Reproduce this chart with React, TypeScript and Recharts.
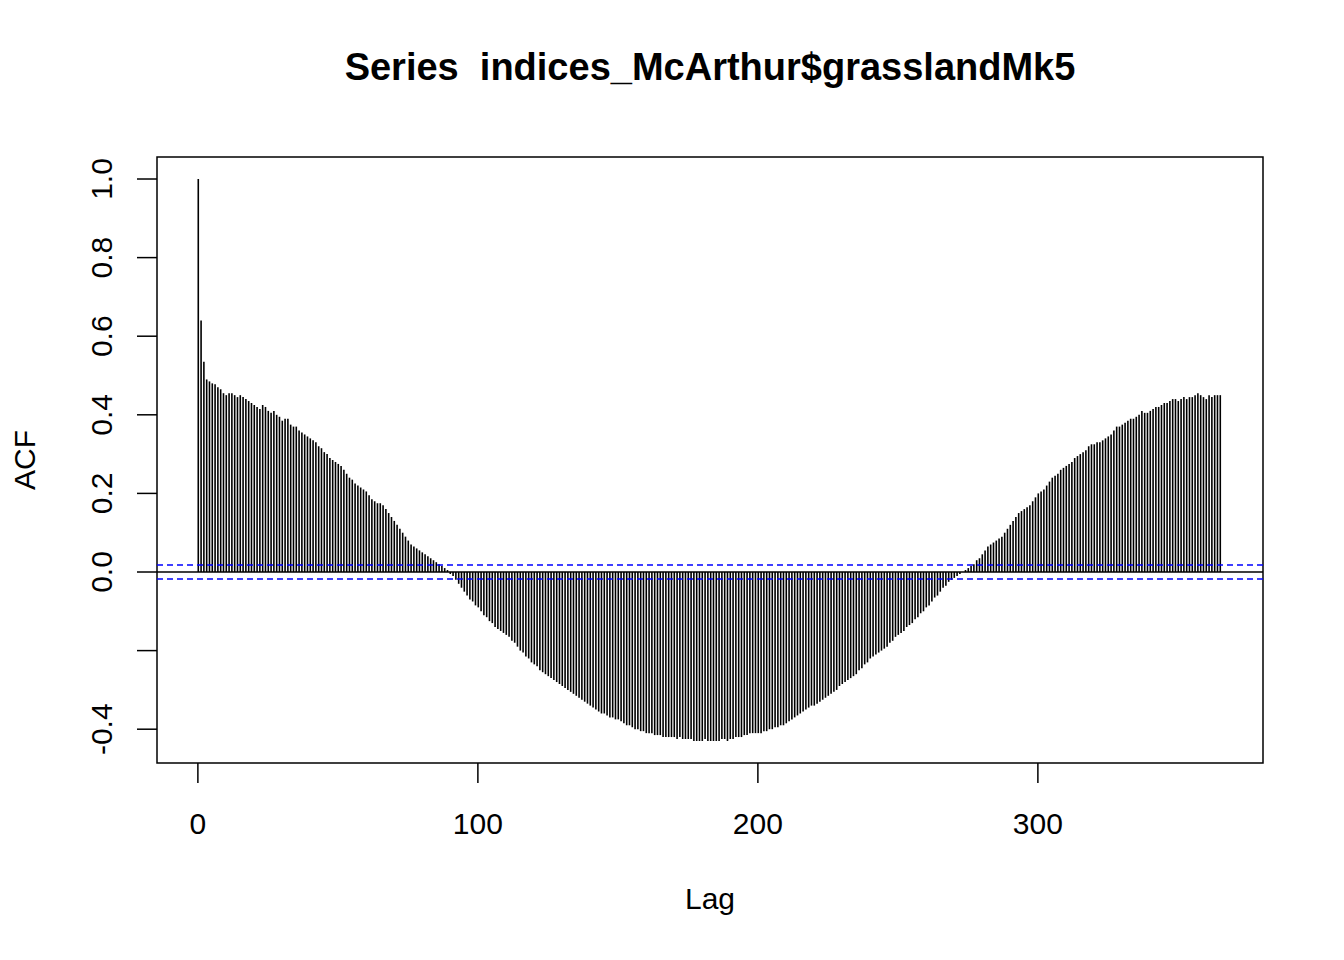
import { Bar, ComposedChart, ReferenceArea, ReferenceLine, XAxis, YAxis } from "recharts";

// ACF values for lags 0..365
const acfValues: number[] = [
  1, 0.64, 0.535, 0.49, 0.485, 0.48, 0.478, 0.47, 0.465, 0.455,
  0.45, 0.455, 0.455, 0.45, 0.445, 0.45, 0.445, 0.44, 0.435, 0.43,
  0.425, 0.42, 0.415, 0.425, 0.42, 0.41, 0.405, 0.41, 0.4, 0.395,
  0.385, 0.39, 0.39, 0.375, 0.37, 0.37, 0.36, 0.355, 0.35, 0.345,
  0.34, 0.335, 0.33, 0.32, 0.315, 0.305, 0.3, 0.29, 0.285, 0.28,
  0.275, 0.27, 0.26, 0.25, 0.24, 0.235, 0.225, 0.22, 0.215, 0.21,
  0.205, 0.195, 0.185, 0.18, 0.175, 0.175, 0.17, 0.16, 0.15, 0.14,
  0.13, 0.12, 0.11, 0.1, 0.09, 0.08, 0.07, 0.065, 0.06, 0.055,
  0.05, 0.045, 0.04, 0.035, 0.03, 0.025, 0.02, 0.015, 0.01, 0.005,
  -0.005, -0.01, -0.02, -0.03, -0.04, -0.05, -0.06, -0.07, -0.075, -0.085,
  -0.09, -0.1, -0.11, -0.115, -0.125, -0.13, -0.14, -0.145, -0.15, -0.155,
  -0.16, -0.165, -0.175, -0.18, -0.19, -0.2, -0.205, -0.215, -0.22, -0.23,
  -0.235, -0.24, -0.25, -0.255, -0.26, -0.265, -0.27, -0.275, -0.28, -0.285,
  -0.29, -0.295, -0.3, -0.305, -0.31, -0.315, -0.32, -0.325, -0.33, -0.335,
  -0.34, -0.345, -0.35, -0.355, -0.36, -0.36, -0.365, -0.37, -0.37, -0.375,
  -0.375, -0.38, -0.385, -0.39, -0.39, -0.395, -0.4, -0.4, -0.405, -0.405,
  -0.41, -0.41, -0.41, -0.415, -0.415, -0.415, -0.42, -0.42, -0.42, -0.42,
  -0.42, -0.425, -0.42, -0.425, -0.425, -0.425, -0.425, -0.43, -0.43, -0.43,
  -0.43, -0.425, -0.43, -0.43, -0.43, -0.43, -0.43, -0.425, -0.425, -0.43,
  -0.425, -0.425, -0.42, -0.42, -0.42, -0.415, -0.415, -0.41, -0.41, -0.41,
  -0.41, -0.41, -0.405, -0.405, -0.4, -0.4, -0.395, -0.395, -0.39, -0.39,
  -0.385, -0.38, -0.375, -0.37, -0.365, -0.36, -0.355, -0.35, -0.345, -0.34,
  -0.34, -0.335, -0.33, -0.325, -0.32, -0.315, -0.31, -0.305, -0.3, -0.29,
  -0.285, -0.28, -0.275, -0.27, -0.265, -0.26, -0.25, -0.245, -0.235, -0.23,
  -0.22, -0.215, -0.21, -0.205, -0.2, -0.195, -0.19, -0.18, -0.175, -0.165,
  -0.16, -0.155, -0.15, -0.14, -0.135, -0.13, -0.12, -0.115, -0.105, -0.1,
  -0.09, -0.085, -0.075, -0.065, -0.06, -0.05, -0.04, -0.035, -0.025, -0.02,
  -0.015, -0.01, -0.005, 0.0, 0.005, 0.01, 0.015, 0.02, 0.03, 0.035,
  0.045, 0.055, 0.065, 0.07, 0.075, 0.08, 0.085, 0.09, 0.1, 0.11,
  0.12, 0.13, 0.14, 0.15, 0.155, 0.16, 0.165, 0.17, 0.18, 0.19,
  0.2, 0.205, 0.21, 0.22, 0.23, 0.24, 0.245, 0.25, 0.26, 0.265,
  0.27, 0.275, 0.28, 0.29, 0.295, 0.3, 0.305, 0.31, 0.32, 0.325,
  0.325, 0.33, 0.33, 0.335, 0.34, 0.345, 0.35, 0.36, 0.37, 0.37,
  0.375, 0.38, 0.385, 0.39, 0.39, 0.395, 0.4, 0.41, 0.405, 0.405,
  0.41, 0.415, 0.42, 0.42, 0.425, 0.43, 0.43, 0.435, 0.44, 0.44,
  0.435, 0.44, 0.445, 0.44, 0.445, 0.445, 0.45, 0.455, 0.45, 0.445,
  0.44, 0.45, 0.445, 0.45, 0.45, 0.45,
];

const xTicks = [0, 100, 200, 300];
const yTicks = [-0.4, -0.2, 0, 0.2, 0.4, 0.6, 0.8, 1.0];
const ciBound = 0.018;

const data = acfValues.map((acf, lag) => ({ lag, acf }));

const X_DOMAIN: [number, number] = [-14.6, 380.4];
const Y_DOMAIN: [number, number] = [-0.486, 1.056];
const font = "'Liberation Sans', Arial, sans-serif";

function YTick({ y, payload }: any) {
  const v = payload.value as number;
  if (Math.abs(v + 0.2) < 1e-6) return null;
  return (
    <text
      x={112}
      y={y}
      transform={`rotate(-90, 112, ${y})`}
      textAnchor="middle"
      fontSize={30}
      fontFamily={font}
      fill="#000"
    >
      {v.toFixed(1)}
    </text>
  );
}

function XTick({ x, payload }: any) {
  return (
    <text x={x} y={834} textAnchor="middle" fontSize={30} fontFamily={font} fill="#000">
      {payload.value}
    </text>
  );
}

export default function App() {
  return (
    <div style={{ position: "absolute", left: 0, top: 0, width: 1344, height: 960, background: "#fff", fontFamily: font }}>
      <div style={{ position: "absolute", left: 0, width: 1420, top: 46, textAlign: "center", fontSize: 38, fontWeight: "bold" }}>
        Series&nbsp; indices_McArthur$grasslandMk5
      </div>
      <div style={{ position: "absolute", left: 0, width: 1420, top: 882, textAlign: "center", fontSize: 30 }}>Lag</div>
      <div
        style={{
          position: "absolute",
          left: 25,
          top: 460,
          fontSize: 30,
          transform: "translate(-50%, -50%) rotate(-90deg)",
        }}
      >
        ACF
      </div>
      <ComposedChart
        width={1344}
        height={960}
        data={data}
        margin={{ top: 157, right: 81, bottom: 97, left: 57 }}
        style={{ position: "absolute", left: 0, top: 0 }}
      >
        <XAxis
          dataKey="lag"
          type="number"
          domain={X_DOMAIN}
          ticks={xTicks}
          allowDataOverflow
          height={100}
          axisLine={false}
          tickLine={{ stroke: "#000", strokeWidth: 1.5 }}
          tickSize={20}
          tick={<XTick />}
        />
        <YAxis
          type="number"
          domain={Y_DOMAIN}
          ticks={yTicks}
          allowDataOverflow
          width={100}
          axisLine={false}
          tickLine={{ stroke: "#000", strokeWidth: 1.5 }}
          tickSize={20}
          tick={<YTick />}
        />
        <Bar dataKey="acf" fill="#000" barSize={1.6} isAnimationActive={false} />
        <ReferenceLine y={0} stroke="#000" strokeWidth={1.5} />
        <ReferenceLine y={ciBound} stroke="#0000ff" strokeWidth={1.5} strokeDasharray="6 4" />
        <ReferenceLine y={-ciBound} stroke="#0000ff" strokeWidth={1.5} strokeDasharray="6 4" />
        <ReferenceArea
          x1={X_DOMAIN[0]}
          x2={X_DOMAIN[1]}
          y1={Y_DOMAIN[0]}
          y2={Y_DOMAIN[1]}
          fill="none"
          fillOpacity={0}
          stroke="#000"
          strokeWidth={1.5}
          ifOverflow="visible"
        />
      </ComposedChart>
    </div>
  );
}
